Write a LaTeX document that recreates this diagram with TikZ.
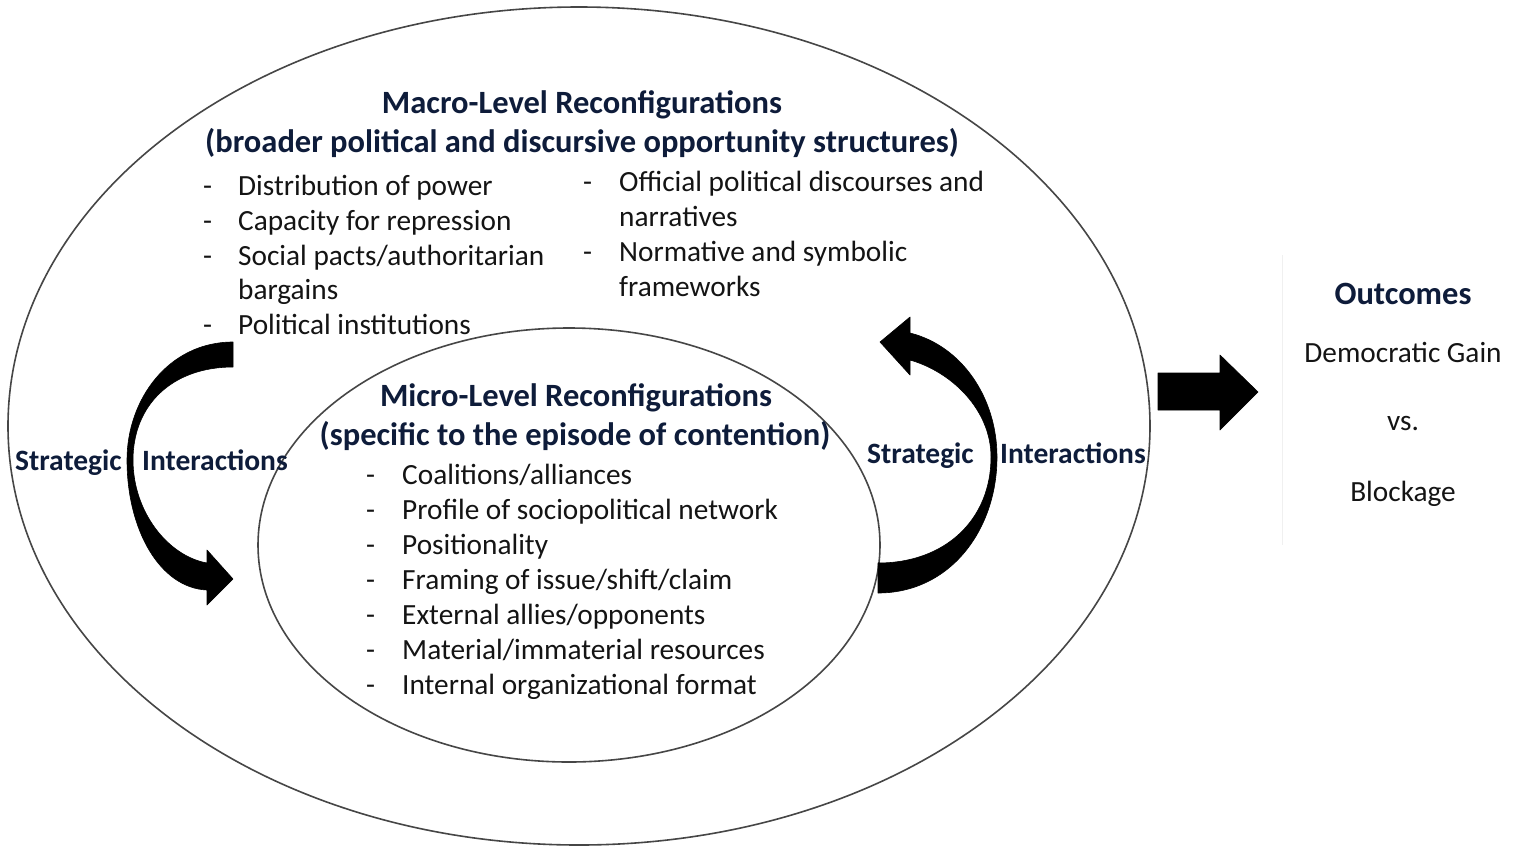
\documentclass[tikz,border=0pt]{standalone}
\usepackage{fontspec}
\setmainfont{Carlito}
\begin{document}
\begin{tikzpicture}[x=1pt,y=-1pt,
  navy/.style={text={rgb,255:red,14;green,28;blue,58}},
  ttl/.style={navy,font=\fontsize{32.5}{36}\selectfont\bfseries,inner sep=0pt,anchor=base},
  itm/.style={font=\fontsize{29.3}{34}\selectfont,inner sep=0pt,anchor=base west,text={rgb,255:red,20;green,20;blue,20}},
  dsh/.style={font=\fontsize{29.3}{34}\selectfont,inner sep=0pt,anchor=base west,text={rgb,255:red,20;green,20;blue,20}},
  lbl/.style={navy,font=\fontsize{29.5}{34}\selectfont\bfseries,inner sep=0pt,anchor=base west},
  otx/.style={font=\fontsize{29.3}{34}\selectfont,inner sep=0pt,anchor=base,text={rgb,255:red,20;green,20;blue,20}},
  ring/.style={draw={rgb,255:red,70;green,70;blue,70},line width=1.6pt},
  fat/.style={fill=black,draw=black,line width=0.6pt,line join=round}
]
\useasboundingbox (0,0) rectangle (1536,852);
\fill[white] (0,0) rectangle (1536,852);

% ellipses
\draw[ring] (579,426) ellipse [x radius=571pt, y radius=419pt];
\draw[ring] (569,545) ellipse [x radius=311pt, y radius=217pt];

% faint text-box edge
\draw[black!6,line width=1pt] (1282,255) -- (1282,545);

% macro title
\node[ttl] (mt1) at (582,113) {Macro-Level Reconfigurations};
\node[ttl] (mt2) at (582,152) {(broader political and discursive opportunity structures)};

% macro list left
\node[dsh] (ld1) at (203,195) {-};
\node[itm] (l1) at (238,195) {Distribution of power};
\node[dsh] (ld2) at (203,230) {-};
\node[itm] (l2) at (238,230) {Capacity for repression};
\node[dsh] (ld3) at (203,265) {-};
\node[itm] (l3) at (238,265) {Social pacts/authoritarian};
\node[itm] (l3b) at (238,299) {bargains};
\node[dsh] (ld4) at (203,334) {-};
\node[itm] (l4) at (238,334) {Political institutions};

% macro list right
\node[dsh] (rd1) at (583,191) {-};
\node[itm] (r1) at (619,191) {Official political discourses and};
\node[itm] (r1b) at (619,226) {narratives};
\node[dsh] (rd2) at (583,261) {-};
\node[itm] (r2) at (619,261) {Normative and symbolic};
\node[itm] (r2b) at (619,296) {frameworks};

% micro title
\node[ttl] (mi1) at (576,406) {Micro-Level Reconfigurations};
\node[ttl] (mi2) at (575,445) {(specific to the episode of contention)};

% micro list
\node[dsh] (md1) at (366,484) {-};
\node[itm] (m1) at (402,484) {Coalitions/alliances};
\node[dsh] (md2) at (366,519) {-};
\node[itm] (m2) at (402,519) {Profile of sociopolitical network};
\node[dsh] (md3) at (366,554) {-};
\node[itm] (m3) at (402,554) {Positionality};
\node[dsh] (md4) at (366,589) {-};
\node[itm] (m4) at (402,589) {Framing of issue/shift/claim};
\node[dsh] (md5) at (366,624) {-};
\node[itm] (m5) at (402,624) {External allies/opponents};
\node[dsh] (md6) at (366,659) {-};
\node[itm] (m6) at (402,659) {Material/immaterial resources};
\node[dsh] (md7) at (366,694) {-};
\node[itm] (m7) at (402,694) {Internal organizational format};

% strategic interaction labels
\node[lbl] (sl1) at (15,470) {Strategic};
\node[lbl] (sl2) at (142,470) {Interactions};
\node[lbl] (sr1) at (867,463) {Strategic};
\node[lbl] (sr2) at (1000,463) {Interactions};

% left curved arrow
\fill[fat] (233,342) .. controls (168,342) and (127,400) .. (127,460)
  .. controls (127,530) and (160,588) .. (207,590)
  -- (207,605) -- (233,579) -- (207,550) -- (207,563)
  .. controls (168,556) and (133,512) .. (133,460)
  .. controls (133,405) and (172,367) .. (233,367) -- cycle;

% right curved arrow
\fill[fat] (878,593) .. controls (950,593) and (997,530) .. (997,457)
  .. controls (997,398) and (962,346) .. (910,333)
  -- (910,317) -- (880,342) -- (910,375) -- (910,360)
  .. controls (952,372) and (991,410) .. (991,457)
  .. controls (991,520) and (945,563) .. (878,563) -- cycle;

% big arrow
\fill[fat] (1158,373) -- (1220,373) -- (1220,355) -- (1258,392) -- (1220,430) -- (1220,410) -- (1158,410) -- cycle;

% outcomes
\node[navy,font=\fontsize{32.5}{36}\selectfont\bfseries,inner sep=0pt,anchor=base] (oc) at (1403,304) {Outcomes};
\node[otx] (dg) at (1403,362) {Democratic Gain};
\node[otx] (vs) at (1403,430) {vs.};
\node[otx] (bl) at (1403,501) {Blockage};
\end{tikzpicture}
\end{document}
